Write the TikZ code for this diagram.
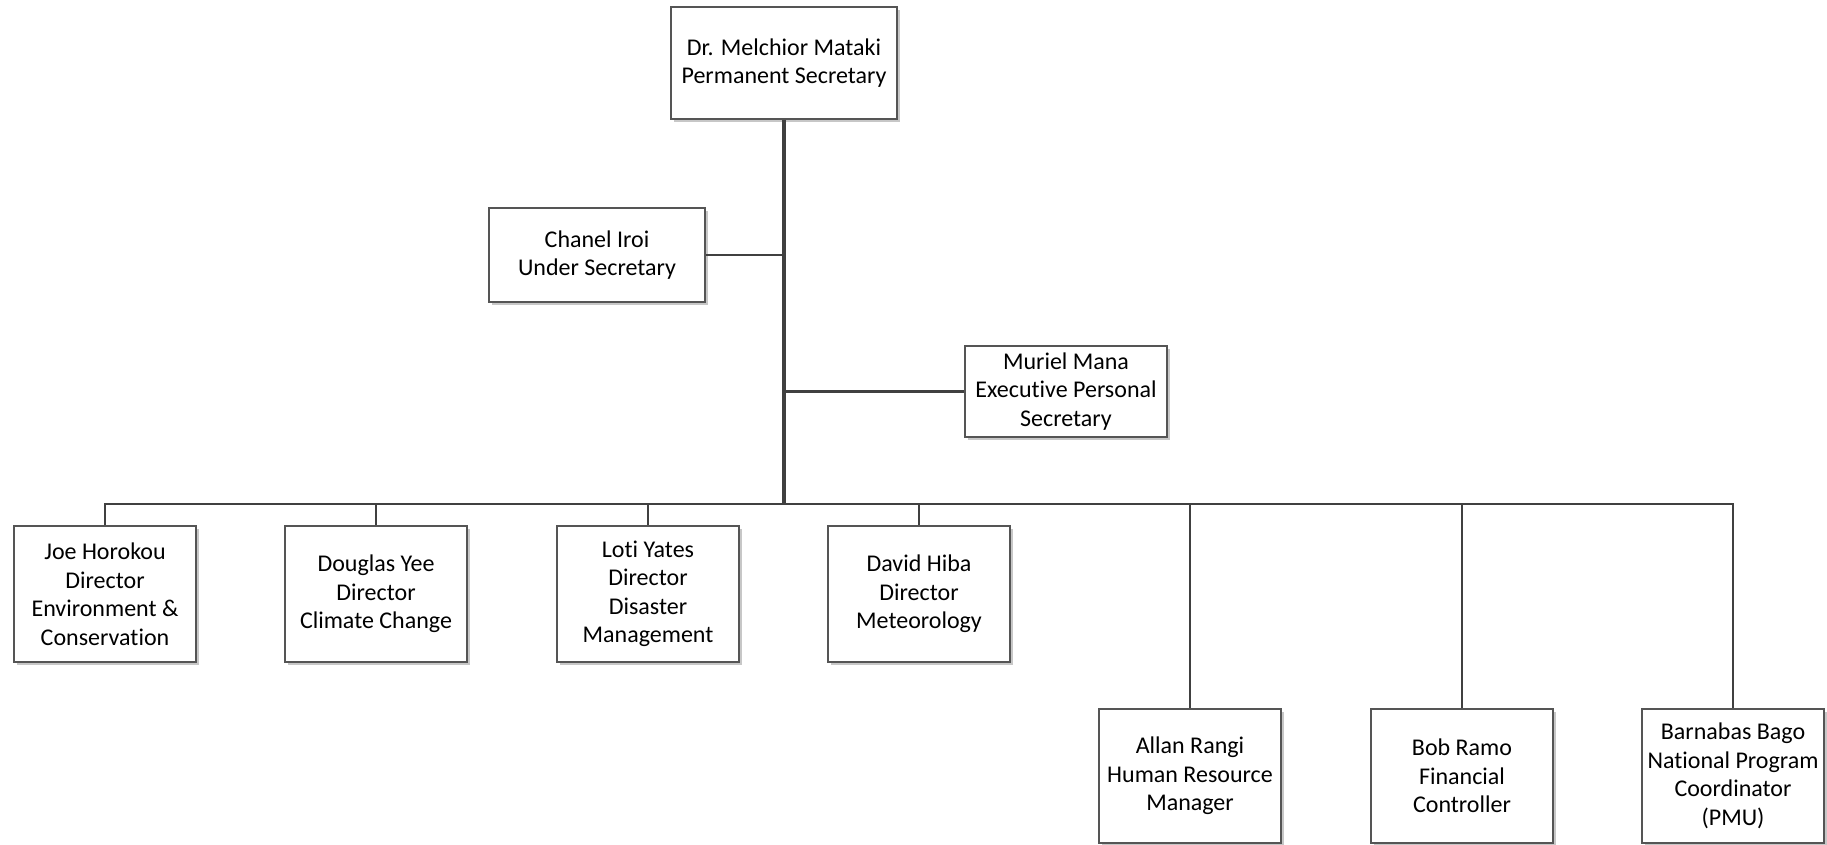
\documentclass[tikz,border=0pt]{standalone}
\usepackage{fontspec}
\setmainfont{Carlito}[Ligatures={NoCommon}]
\usetikzlibrary{shadows}
\definecolor{linecol}{HTML}{404040}
\definecolor{boxcol}{HTML}{555555}
\tikzset{
  person/.style={draw=boxcol, line width=1.1pt, fill=white, align=center,
    font=\fontsize{24}{28.5}\selectfont, inner sep=2pt,
    drop shadow={shadow xshift=3pt, shadow yshift=-3pt, fill=black!22, opacity=1}},
  wide/.style={person, minimum width=182pt, minimum height=136pt},
  conn/.style={draw=linecol, line width=2.5pt},
  trunk/.style={draw=linecol, line width=4pt}
}
\begin{document}
\begin{tikzpicture}[x=1pt,y=-1pt]
\useasboundingbox (0,0) rectangle (1827,844);
\node[person, minimum width=226pt, minimum height=112pt] (ps) at (784,63) {Dr. Melchior Mataki\\Permanent Secretary};
\node[person, minimum width=216pt, minimum height=94pt] (us) at (597,255) {Chanel Iroi\\Under Secretary};
\node[person, minimum width=202pt, minimum height=91pt] (eps) at (1066,391.5) {Muriel Mana\\Executive Personal\\Secretary};
\node[wide] (joe) at (105,594) {Joe Horokou\\Director\\Environment \&\\Conservation};
\node[wide] (doug) at (376,594) {Douglas Yee\\Director\\Climate Change};
\node[wide] (loti) at (648,594) {Loti Yates\\Director\\Disaster\\Management};
\node[wide] (david) at (919,594) {David Hiba\\Director\\Meteorology};
\node[wide, minimum height=134pt] (allan) at (1190,776) {Allan Rangi\\Human Resource\\Manager};
\node[wide, minimum height=134pt] (bob) at (1462,776) {Bob Ramo\\Financial\\Controller};
\node[wide, minimum height=134pt] (barn) at (1733,776) {Barnabas Bago\\National Program\\Coordinator\\(PMU)};
\coordinate (bus) at (784,504);
\draw[conn] (us.east) -- (us.east -| bus);
\draw[conn] (eps.west) -- (eps.west -| bus);
\draw[conn] (joe.north) |- (bus);
\draw[conn] (doug.north) |- (bus);
\draw[conn] (loti.north) |- (bus);
\draw[conn] (david.north) |- (bus);
\draw[conn] (allan.north) |- (bus);
\draw[conn] (bob.north) |- (bus);
\draw[conn] (barn.north) |- (bus);
\draw[trunk] (ps.south) -- (bus);
\end{tikzpicture}
\end{document}
